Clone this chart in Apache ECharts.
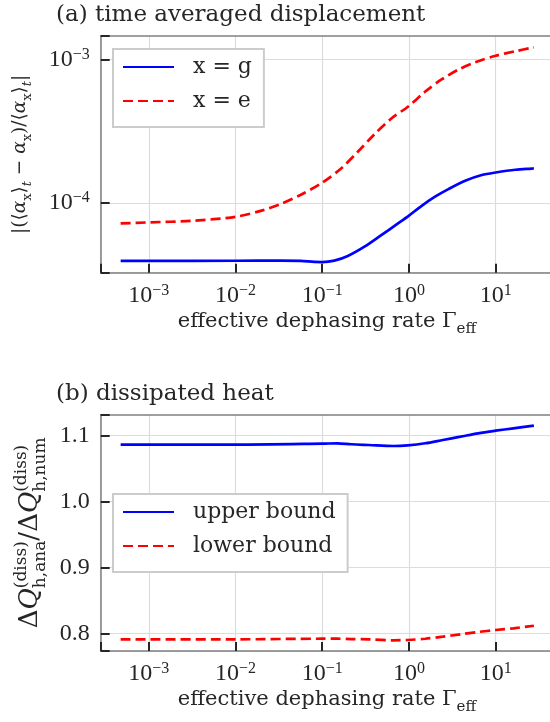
<!DOCTYPE html>
<html><head><meta charset="utf-8">
<script src="https://cdn.jsdelivr.net/npm/echarts@6/dist/echarts.min.js"></script>
<style>html,body{margin:0;padding:0;background:#fff}#c{width:550px;height:722px}</style>
</head><body><div id="c"></div>
<script>
// ---- data ----
const panelTitles = ['(a) time averaged displacement', '(b) dissipated heat'];
const seriesNames = ['x = g', 'x = e', 'upper bound', 'lower bound'];
const yBottomTickValues = [0.8, 0.9, 1.0, 1.1];

const gammaDispG = [4.73e-4, 1e-3, 1e-2, 0.033, 0.056, 0.081, 0.1, 0.138, 0.197, 0.307, 0.48, 0.748, 1.0, 1.39, 2.0, 2.85, 4.45, 6.93, 10, 16.9, 27.6];
const dispG = [3.95e-5, 3.95e-5, 3.96e-5, 3.97e-5, 3.95e-5, 3.89e-5, 3.88e-5, 3.97e-5, 4.28e-5, 4.97e-5, 5.98e-5, 7.21e-5, 8.17e-5, 9.53e-5, 1.107e-4, 1.25e-4, 1.429e-4, 1.567e-4, 1.633e-4, 1.706e-4, 1.742e-4];

const gammaDispE = [4.73e-4, 1e-3, 3.16e-3, 1e-2, 0.0209, 0.033, 0.056, 0.1, 0.165, 0.257, 0.401, 0.627, 1.0, 1.53, 2.38, 3.72, 5.81, 10, 16.9, 27.6];
const dispE = [7.21e-5, 7.33e-5, 7.52e-5, 8.02e-5, 8.93e-5, 9.84e-5, 1.138e-4, 1.387e-4, 1.742e-4, 2.275e-4, 3.02e-4, 3.88e-4, 4.75e-4, 5.96e-4, 7.26e-4, 8.51e-4, 9.57e-4, 1.062e-3, 1.143e-3, 1.216e-3];

const gammaHeat = [4.73e-4, 1e-2, 0.1, 0.149, 0.216, 0.345, 0.664, 0.966, 1.54, 2.46, 3.93, 6.27, 10, 16, 27.6];
const heatUpper = [1.0858, 1.0858, 1.0873, 1.0879, 1.0864, 1.0853, 1.0838, 1.0848, 1.0879, 1.0929, 1.0979, 1.103, 1.107, 1.1106, 1.1146];
const heatLower = [0.7909, 0.7909, 0.7918, 0.7918, 0.7912, 0.7909, 0.7894, 0.7899, 0.7918, 0.7949, 0.7985, 0.802, 0.805, 0.8076, 0.8115];

// ---- axis ranges ----
const xRange = [2.786e-4, 46.1];
const yTopRange = [3.27e-5, 1.459e-3];
const yBottomRange = [0.7732, 1.1312];

// ---- styling ----
const TXT = '#262626';
const SPINE = '#808080';
const SERIF = "'DejaVu Serif', 'DejaVu Sans', serif";
const NUM = "'Liberation Serif', serif";
const FRONT = 1;   // layer for axes with ticks, series, legends, titles
const BACK = 0;    // layer for grid lines
const pair = (xs, ys) => xs.map((x, i) => [x, ys[i]]);

function powLabel(v) {
  const e = Math.log10(v), r = Math.round(e);
  if (Math.abs(e - r) > 1e-6) return '';
  return '{b|10}{p|' + (r < 0 ? '\u2212' : '') + Math.abs(r) + '}';
}
const powRich = () => ({
  b: { fontFamily: NUM, fontSize: 24, lineHeight: 26, color: TXT },
  p: { fontFamily: NUM, fontSize: 16, lineHeight: 16, verticalAlign: 'top', color: TXT }
});
function nameRich(fs, ss, lh, supShift) {
  return {
    n: { fontFamily: SERIF, fontSize: fs, lineHeight: lh, color: TXT },
    i: { fontFamily: SERIF, fontStyle: 'italic', fontSize: fs, lineHeight: lh, color: TXT },
    s: { fontFamily: SERIF, fontSize: ss, lineHeight: ss, verticalAlign: 'bottom', color: TXT },
    st: { fontFamily: SERIF, fontStyle: 'italic', fontSize: ss, lineHeight: ss, verticalAlign: 'bottom', color: TXT },
    sp: { fontFamily: SERIF, fontSize: ss, lineHeight: ss, verticalAlign: 'top', width: 0, padding: [0, -supShift, 0, supShift], color: TXT }
  };
}

const gridLine = () => ({ show: true, showMaxLine: false, lineStyle: { color: '#dcdcdc', width: 1.2 } });
const tick = () => ({ show: true, inside: true, length: 9, lineStyle: { color: TXT, width: 2 } });
const spine = () => ({ show: true, onZero: false, lineStyle: { color: SPINE, width: 1.5 } });

// main (bottom) x axes: spine, ticks, labels, name
function xAxis(gi) {
  return {
    type: 'log', gridIndex: gi, zlevel: FRONT, z: 1,
    min: xRange[0], max: xRange[1],
    axisLine: spine(),
    axisTick: tick(),
    axisLabel: { margin: 10, formatter: powLabel, rich: powRich() },
    splitLine: { show: false },
    name: '{n|effective dephasing rate \u0393}{s|eff}',
    nameLocation: 'middle', nameGap: 34,
    nameTextStyle: { rich: nameRich(21, 15, 30, 0) }
  };
}
// top x axes: top spine + vertical grid lines, on the back layer
function xTop(gi) {
  return { type: 'log', gridIndex: gi, position: 'top', zlevel: BACK, z: 0, min: xRange[0], max: xRange[1],
    axisLine: spine(), axisTick: { show: false }, axisLabel: { show: false }, splitLine: gridLine() };
}
// right y axes: horizontal grid lines only, on the back layer
function yGrid(gi, type, range) {
  return { type: type, gridIndex: gi, position: 'right', zlevel: BACK, z: 0, min: range[0], max: range[1],
    axisLine: { show: false }, axisTick: { show: false }, axisLabel: { show: false }, splitLine: gridLine() };
}
const legendBase = () => ({
  orient: 'vertical', left: 113, zlevel: FRONT,
  itemWidth: 51, itemHeight: 24, itemGap: 12, padding: [7, 12, 15, 9],
  backgroundColor: '#fff', borderColor: '#cccccc', borderWidth: 2, borderRadius: 0,
  itemStyle: { opacity: 0 },
  textStyle: { fontFamily: SERIF, fontSize: 22, color: TXT, padding: [0, 0, 0, 14] }
});
const gridBox = (top, h) => ({ left: 100.7, width: 452.5, top: top, height: h, outerBoundsMode: 'none', containLabel: false });

const option = {
  animation: false,
  backgroundColor: '#fff',
  title: [
    { text: panelTitles[0], left: 51, top: -1, zlevel: FRONT, textStyle: { fontFamily: SERIF, fontSize: 23, fontWeight: 'normal', color: TXT } },
    { text: panelTitles[1], left: 51, top: 378, zlevel: FRONT, textStyle: { fontFamily: SERIF, fontSize: 23, fontWeight: 'normal', color: TXT } }
  ],
  grid: [gridBox(36, 236.7), gridBox(414.7, 236.3)],
  legend: [
    Object.assign(legendBase(), { data: [seriesNames[0], seriesNames[1]], top: 49 }),
    Object.assign(legendBase(), { data: [seriesNames[2], seriesNames[3]], top: 494 })
  ],
  xAxis: [xAxis(0), xAxis(1), xTop(0), xTop(1)],
  yAxis: [
    { type: 'log', gridIndex: 0, zlevel: FRONT, z: 1, min: yTopRange[0], max: yTopRange[1],
      axisLine: spine(), axisTick: tick(),
      axisLabel: { margin: 11, formatter: powLabel, rich: powRich() },
      splitLine: { show: false },
      name: '{n|\u007C(\u27E8}{i|\u03B1}{s|x}{n|\u27E9}{st|t}{n| \u2212 }{i|\u03B1}{s|x}{n|)/\u27E8}{i|\u03B1}{s|x}{n|\u27E9}{st|t}{n|\u007C}',
      nameLocation: 'middle', nameGap: 67, nameTextStyle: { rich: nameRich(18.5, 13, 28, 0) } },
    { type: 'value', gridIndex: 1, zlevel: FRONT, z: 1, min: yBottomRange[0], max: yBottomRange[1],
      axisLine: spine(), axisTick: tick(),
      axisLabel: { margin: 11, fontFamily: NUM, fontSize: 24, color: TXT,
        formatter: v => yBottomTickValues.some(t => Math.abs(t - v) < 1e-6) ? v.toFixed(1) : '' },
      splitLine: { show: false },
      name: '{n|\u0394}{i|Q}{sp|(diss)}{s|h,ana}{n|/\u0394}{i|Q}{sp|(diss)}{s|h,num}',
      nameLocation: 'middle', nameGap: 52, nameTextStyle: { rich: nameRich(26, 17, 36, 23.5) } },
    yGrid(0, 'log', yTopRange),
    yGrid(1, 'value', yBottomRange)
  ],
  series: [
    { name: seriesNames[0], type: 'line', xAxisIndex: 0, yAxisIndex: 0, zlevel: FRONT, z: 2, data: pair(gammaDispG, dispG),
      showSymbol: false, symbol: 'none', smooth: 0.3, lineStyle: { color: '#0000ff', width: 2.7, type: 'solid' }, itemStyle: { color: '#0000ff' } },
    { name: seriesNames[1], type: 'line', xAxisIndex: 0, yAxisIndex: 0, zlevel: FRONT, z: 2, data: pair(gammaDispE, dispE),
      showSymbol: false, symbol: 'none', smooth: 0.3, lineStyle: { color: '#ff0000', width: 2.7, type: [10, 5] }, itemStyle: { color: '#ff0000' } },
    { name: seriesNames[2], type: 'line', xAxisIndex: 1, yAxisIndex: 1, zlevel: FRONT, z: 2, data: pair(gammaHeat, heatUpper),
      showSymbol: false, symbol: 'none', smooth: 0.3, lineStyle: { color: '#0000ff', width: 2.7, type: 'solid' }, itemStyle: { color: '#0000ff' } },
    { name: seriesNames[3], type: 'line', xAxisIndex: 1, yAxisIndex: 1, zlevel: FRONT, z: 2, data: pair(gammaHeat, heatLower),
      showSymbol: false, symbol: 'none', smooth: 0.3, lineStyle: { color: '#ff0000', width: 2.7, type: [10, 5] }, itemStyle: { color: '#ff0000' } }
  ]
};
const chart = echarts.init(document.getElementById('c'), null, { renderer: 'canvas' });
chart.setOption(option);
</script></body></html>
